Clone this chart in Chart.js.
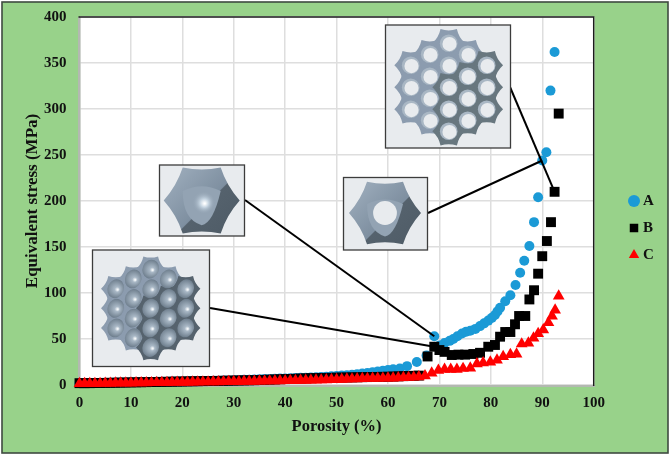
<!DOCTYPE html>
<html>
<head>
<meta charset="utf-8">
<style>
  html, body { margin: 0; padding: 0; background: #fff; }
  canvas { display: block; }
</style>
<script src="https://cdn.jsdelivr.net/npm/chart.js@4"></script>
</head>
<body>
<canvas id="chart" width="671" height="455"></canvas>
<script>
const aPorosity = [0,1,2,3,4,5,6,7,8,9,10,11,12,13,14,15,16,17,18,19,20,21,22,23,24,25,26,27,28,29,30,31,32,33,34,35,36,37,38,39,40,41,42,43,44,45,46,47,48,49,50,51,52,53,54,55,56,57,58,59,60,61,62.3,63.7,65.6,67.5,69,70,71,72,72.7,73.5,74.4,75.2,76,77,77.9,78.7,79.5,80.2,80.8,81.3,81.8,82.8,83.8,84.8,85.7,86.5,87.5,88.4,89.2,90,90.8,91.6,92.4];
const aStress = [2,2,2.1,2.2,2.3,2.4,2.5,2.6,2.7,2.8,2.9,3,3.1,3.2,3.3,3.4,3.5,3.6,3.7,3.8,3.9,4,4.1,4.2,4.3,4.4,4.5,4.6,4.8,5,5.2,5.4,5.6,5.8,6,6.2,6.4,6.6,6.8,7,7.2,7.4,7.6,7.8,8,8.2,8.5,8.8,9.1,9.4,9.8,10.2,10.7,11.2,11.8,12.4,13.1,13.8,14.6,15.4,16.2,17,18,20.5,25,32,53,43,45.6,48,50,53,56,58,59,61,64,67,70,73,76,80,84,91,97.5,108.7,122,135,151,177,204,244,253,320,362];

const bPorosity = [0,1,2,3,4,5,6,7,8,9,10,11,12,13,14,15,16,17,18,19,20,21,22,23,24,25,26,27,28,29,30,31,32,33,34,35,36,37,38,39,40,41,42,43,44,45,46,47,48,49,50,51,52,53,54,55,56,57,58,59,60,61,62,63,64,65,66,67.7,69,70,71,72.4,73.7,75,76.6,77.9,79.5,80.8,81.8,82.8,83.8,84.7,85.5,86.7,87.5,88.4,89.2,90,90.9,91.7,92.4,93.2];
const bStress = [2,2,2,2.1,2.2,2.3,2.4,2.5,2.6,2.7,2.8,2.9,3,3.1,3.2,3.3,3.4,3.5,3.6,3.7,3.8,3.9,4,4.1,4.2,4.3,4.4,4.5,4.6,4.7,4.8,4.9,5,5.1,5.2,5.4,5.6,5.8,6,6.2,6.4,6.6,6.8,7,7.2,7.4,7.5,7.6,7.7,7.8,8,8.1,8.2,8.3,8.4,8.5,8.6,8.7,8.8,8.9,9,9.2,9.4,9.6,9.8,10,10.2,31,41.6,38,36,32.6,33,33,33.7,35,41.6,43.5,52.5,57.6,57.6,66,75,75,93,103,121,140,156.5,177,210,295];

const cPorosity = [0,1,2,3,4,5,6,7,8,9,10,11,12,13,14,15,16,17,18,19,20,21,22,23,24,25,26,27,28,29,30,31,32,33,34,35,36,37,38,39,40,41,42,43,44,45,46,47,48,49,50,51,52,53,54,55,56,57,58,59,60,61,62,63,64,65,66,67.2,68.5,69.8,71,72.2,73.4,74.6,76,77.3,78.5,79.9,81.2,82.4,83.8,85,86,87.3,88.3,89.2,90.2,91.2,91.9,92.5,93.2];
const cStress = [1.5,1.5,1.6,1.6,1.7,1.8,1.9,2,2,2.1,2.2,2.3,2.3,2.4,2.5,2.6,2.6,2.7,2.8,2.9,3,3,3.1,3.2,3.3,3.3,3.4,3.5,3.6,3.7,3.8,3.8,3.9,4,4.1,4.2,4.3,4.4,4.5,4.6,4.7,4.8,4.9,5,5.1,5.2,5.3,5.5,5.6,5.8,6,6.2,6.4,6.6,6.8,7,7.1,7.2,7.3,7.4,7.5,7.6,7.8,8,8.2,8.5,8.8,10,13,16,17,17,17,18,18.5,23,24,25,27,31,33,33.7,44.6,45.6,51,56,60,67.7,75,81.5,96.7];

const xTicks = [0,10,20,30,40,50,60,70,80,90,100];
const yTicks = [0,50,100,150,200,250,300,350,400];
const seriesNames = ["A","B","C"];

const SERIF = "'Liberation Serif', 'Times New Roman', serif";
const GREEN = "#98d28a";

function cellPath(ctx, cx, cy, r, bend) {
  ctx.beginPath();
  for (let i = 0; i < 6; i++) {
    const a0 = i * Math.PI / 3, a1 = (i + 1) * Math.PI / 3, am = (a0 + a1) / 2;
    const x0 = cx + r * Math.cos(a0), y0 = cy + r * Math.sin(a0);
    if (i === 0) ctx.moveTo(x0, y0);
    ctx.quadraticCurveTo(cx + r * bend * Math.cos(am), cy + r * bend * Math.sin(am),
      cx + r * Math.cos(a1), cy + r * Math.sin(a1));
  }
  ctx.closePath();
}

function insetBox(ctx, x0, y0, x1, y1, inner) {
  ctx.save();
  ctx.fillStyle = "#e8ebee";
  ctx.fillRect(x0, y0, x1 - x0, y1 - y0);
  ctx.beginPath();
  ctx.rect(x0, y0, x1 - x0, y1 - y0);
  ctx.clip();
  inner();
  ctx.restore();
  ctx.strokeStyle = "#3c3c3c";
  ctx.lineWidth = 1.3;
  ctx.strokeRect(x0, y0, x1 - x0, y1 - y0);
}

function latticeCells(cx, cy, dx, dy) {
  const cells = [];
  for (let c = -2; c <= 2; c++) {
    const n = 2 - Math.abs(c) * 0.5;
    for (let k = -n; k <= n; k++) cells.push([cx + c * dx, cy + k * 2 * dy]);
  }
  return cells;
}

function drawLattice(ctx, cx, cy, dx, dy, r, holes) {
  const cells = latticeCells(cx, cy, dx, dy);
  const isDark = (p) => (p[0] - cx) > -4 && (p[1] - cy) > -dy * 1.2 + (cx - p[0]) * 0.3;
  const dark = holes ? "#68777f" : "#56636e";
  cells.forEach(p => {
    ctx.fillStyle = isDark(p) ? dark : "#8c9caf";
    cellPath(ctx, p[0], p[1], r * 1.3, 0.7);
    ctx.fill();
    cellPath(ctx, p[0], p[1], r, 1);
    ctx.fill();
  });
  cells.forEach(p => {
    if (holes) {
      ctx.fillStyle = "#a9b7c4";
      ctx.beginPath();
      ctx.arc(p[0], p[1], r * 0.7, 0, Math.PI * 2);
      ctx.fill();
      ctx.fillStyle = "#e8ebee";
      ctx.beginPath();
      ctx.arc(p[0] + 0.8, p[1] + 0.8, r * 0.56, 0, Math.PI * 2);
      ctx.fill();
    } else {
      const g = ctx.createRadialGradient(p[0] + 2, p[1] + 1, 0.5, p[0], p[1], r * 0.85);
      g.addColorStop(0, "#f4f7f9");
      g.addColorStop(0.22, "#a9b8c6");
      g.addColorStop(1, "#6c7c8b");
      ctx.fillStyle = g;
      ctx.beginPath();
      ctx.ellipse(p[0], p[1], r * 0.72, r * 0.85, 0.4, 0, Math.PI * 2);
      ctx.fill();
    }
  });
}

function drawCell(ctx, cx, cy, r, hole) {
  const g = ctx.createLinearGradient(cx - r, cy - r, cx + r, cy + r);
  g.addColorStop(0, "#a4b3c2");
  g.addColorStop(0.55, "#7e8fa0");
  g.addColorStop(0.56, "#55626d");
  g.addColorStop(1, "#4d5a65");
  ctx.fillStyle = g;
  cellPath(ctx, cx, cy, r, 0.76);
  ctx.fill();
  ctx.fillStyle = "#93a3b3";
  ctx.beginPath();
  ctx.moveTo(cx - r * 0.5, cy - r * 0.25);
  ctx.quadraticCurveTo(cx, cy - r * 0.5, cx + r * 0.5, cy - r * 0.25);
  ctx.quadraticCurveTo(cx + r * 0.3, cy + r * 0.6, cx, cy + r * 0.65);
  ctx.quadraticCurveTo(cx - r * 0.5, cy + r * 0.5, cx - r * 0.5, cy - r * 0.25);
  ctx.fill();
  if (hole) {
    ctx.fillStyle = "#e8ebee";
    ctx.beginPath();
    ctx.arc(cx, cy, r * 0.33, 0, Math.PI * 2);
    ctx.fill();
  } else {
    const s = ctx.createRadialGradient(cx + 3, cy + 3, 0.5, cx + 2, cy + 2, r * 0.3);
    s.addColorStop(0, "#ffffff");
    s.addColorStop(0.35, "#c4d3e0");
    s.addColorStop(1, "rgba(147,163,179,0)");
    ctx.fillStyle = s;
    ctx.beginPath();
    ctx.arc(cx + 2, cy + 2, r * 0.3, 0, Math.PI * 2);
    ctx.fill();
  }
}

const framePlugin = {
  id: "frame",
  afterLayout(chart) {
    // the legend sits further right and higher than the layout leaves it
    const l = chart.legend;
    const w = l.right - l.left;
    const h = l.bottom - l.top;
    l.left = 620.5;
    l.right = l.left + w;
    l.top -= 1;
    l.bottom = l.top + h;
  },
  beforeDraw(chart) {
    const ctx = chart.ctx, a = chart.chartArea;
    ctx.save();
    ctx.fillStyle = GREEN;
    ctx.fillRect(2, 2, 666, 451);
    ctx.strokeStyle = "#3f4a40";
    ctx.lineWidth = 1.6;
    ctx.strokeRect(2, 2, 666, 451);
    ctx.fillStyle = "#fff";
    ctx.fillRect(a.left, a.top, a.right - a.left, a.bottom - a.top);
    ctx.restore();
  },
  beforeDatasetsDraw(chart) {
    const ctx = chart.ctx, a = chart.chartArea;
    ctx.save();
    ctx.fillStyle = "#b3b9b1";
    ctx.fillRect(a.left - 1.5, a.top, 2.5, a.bottom - a.top + 2);
    ctx.fillRect(a.left - 1.5, a.bottom, a.right - a.left + 3, 2);
    ctx.strokeStyle = "#1c1c1c";
    ctx.lineWidth = 1.4;
    ctx.beginPath();
    ctx.moveTo(a.left - 1, a.top);
    ctx.lineTo(a.right, a.top);
    ctx.lineTo(a.right, a.bottom + 1);
    ctx.stroke();
    ctx.restore();
  },
  afterDatasetsDraw(chart) {
    const ctx = chart.ctx, x = chart.scales.x, y = chart.scales.y;
    ctx.save();
    // leader lines end on the data point they point at
    const leaders = [
      [510, 87, 92.4, 210],
      [428, 213, 90, 244],
      [245, 200, 69, 53],
      [210, 308, 69, 41.6]
    ];
    ctx.strokeStyle = "#000";
    ctx.lineWidth = 2;
    leaders.forEach(l => {
      ctx.beginPath();
      ctx.moveTo(l[0], l[1]);
      ctx.lineTo(x.getPixelForValue(l[2]), y.getPixelForValue(l[3]));
      ctx.stroke();
    });
    insetBox(ctx, 385.5, 25, 510.5, 148, () => drawLattice(ctx, 448.7, 87.3, 19, 11, 12.6, true));
    insetBox(ctx, 343.5, 177.5, 427.5, 250, () => drawCell(ctx, 385, 213, 36, true));
    insetBox(ctx, 159.5, 165, 244.5, 236, () => drawCell(ctx, 201.7, 200.5, 38, false));
    insetBox(ctx, 92.5, 250, 209.5, 366.5, () => drawLattice(ctx, 150.7, 308.3, 17.5, 9.8, 11.3, false));
    ctx.restore();
  }
};

new Chart(document.getElementById("chart"), {
  type: "scatter",
  data: {
    datasets: [
      { label: seriesNames[0], data: aPorosity.map((v, i) => ({ x: v, y: aStress[i] })), pointStyle: "circle", pointRadius: 5, backgroundColor: "#1b9ad6", borderWidth: 0, order: 3, clip: false },
      { label: seriesNames[1], data: bPorosity.map((v, i) => ({ x: v, y: bStress[i] })), pointStyle: "rect", pointRadius: 7, backgroundColor: "#000000", borderWidth: 0, order: 2, clip: false },
      { label: seriesNames[2], data: cPorosity.map((v, i) => ({ x: v, y: cStress[i] })), pointStyle: "triangle", pointRadius: 6.8, backgroundColor: "#ff0000", borderWidth: 0, order: 1, clip: false }
    ]
  },
  options: {
    responsive: false,
    animation: false,
    devicePixelRatio: 1,
    layout: { padding: { left: 18, right: 34, top: 17, bottom: 14 } },
    plugins: {
      tooltip: { enabled: false },
      legend: {
        position: "right",
        labels: {
          usePointStyle: true,
          sort: (a, b) => a.datasetIndex - b.datasetIndex,
          boxHeight: 8.5,
          boxWidth: 3,
          padding: 12,
          color: "#111",
          font: { family: SERIF, size: 15, weight: "bold" }
        }
      }
    },
    scales: {
      x: {
        type: "linear",
        min: 0,
        max: 100,
        afterBuildTicks: (s) => { s.ticks = xTicks.map(v => ({ value: v })); },
        afterFit: (s) => { s.height = 56; },
        grid: { color: "#dedede", lineWidth: 1.5, drawTicks: false },
        border: { display: false },
        ticks: { padding: 9, maxRotation: 0, color: "#111", font: { family: SERIF, size: 15, weight: "bold" } },
        title: { display: true, text: "Porosity (%)", color: "#111", padding: { top: 6 }, font: { family: SERIF, size: 16.5, weight: "bold" } }
      },
      y: {
        min: 0,
        max: 400,
        afterBuildTicks: (s) => { s.ticks = yTicks.map(v => ({ value: v })); },
        afterFit: (s) => { s.width = 61.5; s.paddingTop = 0; s.paddingBottom = 0; },
        grid: { color: "#dedede", lineWidth: 1.5, drawTicks: false },
        border: { display: false },
        ticks: { padding: 13, color: "#111", font: { family: SERIF, size: 15, weight: "bold" } },
        title: { display: true, text: "Equivalent stress (MPa)", color: "#111", padding: { bottom: 2 }, font: { family: SERIF, size: 17, weight: "bold" } }
      }
    }
  },
  plugins: [framePlugin]
});
</script>
</body>
</html>
